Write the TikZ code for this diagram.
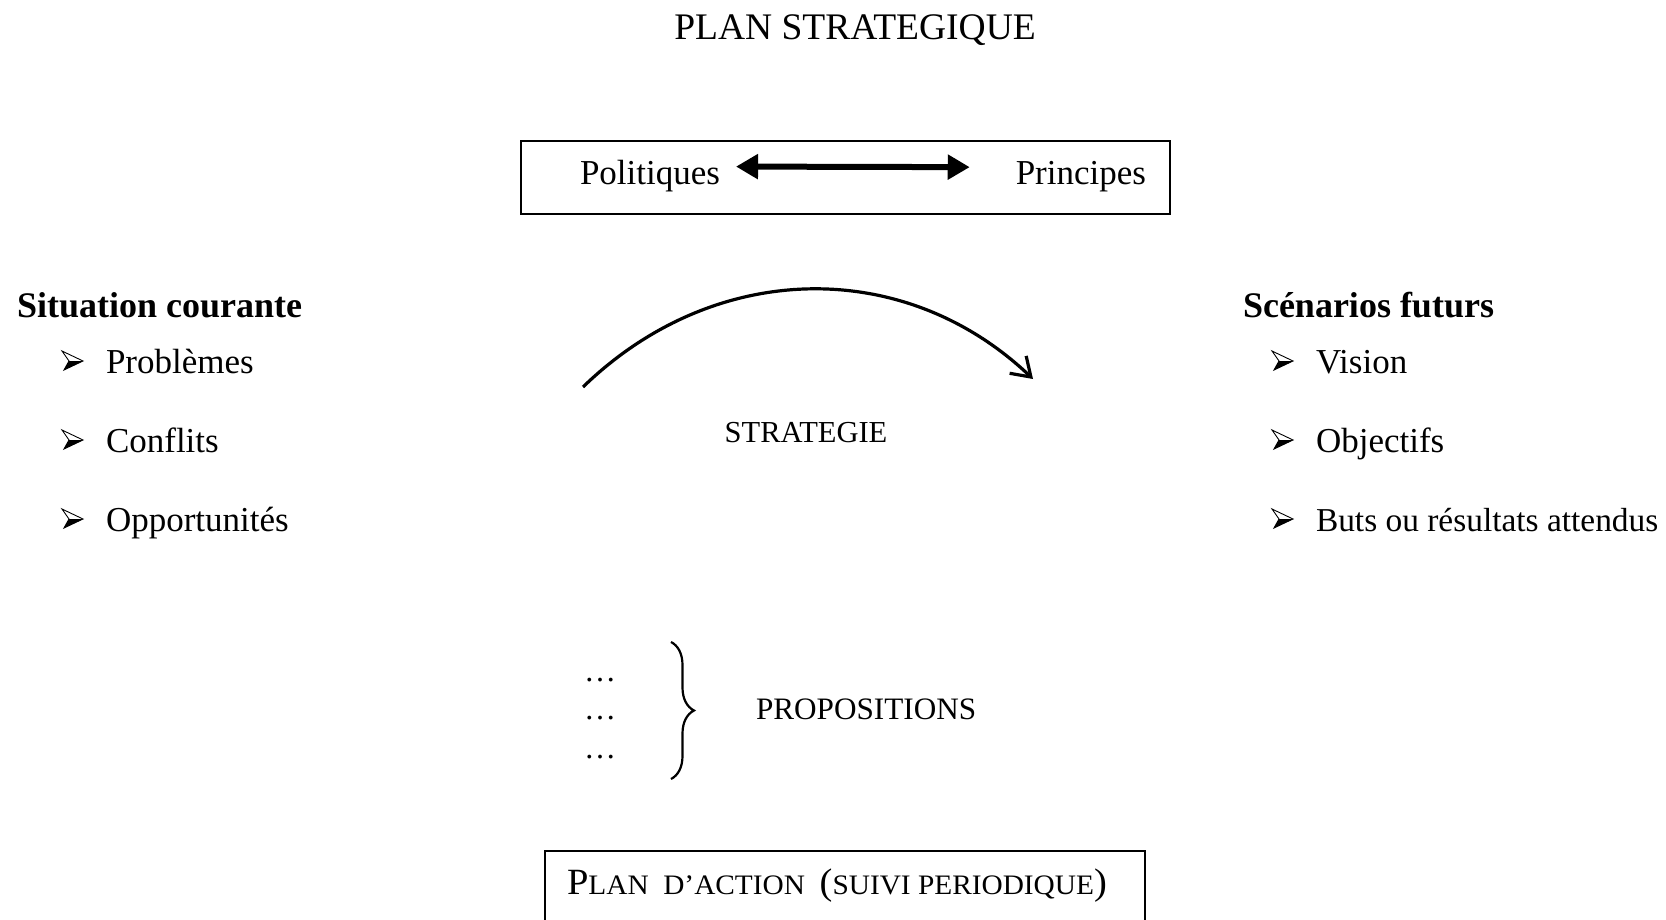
\documentclass[tikz,border=0pt]{standalone}
\usepackage{fontspec}
\usepackage{graphicx}
\setmainfont{Liberation Serif}
\usetikzlibrary{arrows.meta,decorations.pathreplacing}
\newcommand\fsz[1]{\fontsize{#1}{#1}\selectfont}
\tikzset{
  txt/.style={inner sep=0pt, outer sep=0pt},
  body/.style={txt, font=\fsz{35}},
  boldhead/.style={txt, font=\fsz{36}\bfseries},
  smallcap/.style={txt, font=\fsz{30.5}},
  frame/.style={draw, line width=1.6pt, inner sep=0pt, outer sep=0pt},
  biarrow/.style={line width=6pt, {Triangle[length=22pt,width=24pt]}-{Triangle[length=22pt,width=24pt]}},
  arcarrow/.style={line width=3.2pt, -{Straight Barb[length=18pt,width=24pt,line width=3.2pt]}},
  bracestyle/.style={line width=2.2pt, decorate, decoration={brace, amplitude=23pt}},
  arrowbullet/.pic={
    \fill (7,0) -- (21,0) -- (2,9) -- cycle;
    \draw[line width=0.9pt, line join=miter] (0,-10) -- (21,0) -- (2,9) -- (7,0) -- cycle;
  }
}
\begin{document}
\begin{tikzpicture}[x=1pt,y=-1pt]
\useasboundingbox (0,0) rectangle (1666,920);
% title
\node[txt, anchor=base, font=\fsz{37.5}] (title) at (855,40) {PLAN STRATEGIQUE};
% top box
\node[frame, minimum width=649pt, minimum height=73pt] (topbox) at (845.5,177.5) {};
\node[body, anchor=base west] (pol) at (580,185) {Politiques};
\node[body, anchor=base east] (prin) at (1146,185) {Principes};
\draw[biarrow] ([xshift=16pt,yshift=10pt]pol.east) -- ([xshift=-46pt,yshift=10pt]prin.west);
% left list
\node[boldhead, anchor=base west] (sit) at (17,317) {Situation courante};
\pic (lb1) at (62,361) {arrowbullet};
\node[body, anchor=base west] (l1) at (106,373) {Problèmes};
\pic (lb2) at (62,440) {arrowbullet};
\node[body, anchor=base west] (l2) at (106,452) {Conflits};
\pic (lb3) at (62,519) {arrowbullet};
\node[body, anchor=base west] (l3) at (106,531) {Opportunités};
% right list
\node[boldhead, anchor=base west] (scen) at (1243,317) {Scénarios futurs};
\pic (rb1) at (1272,361) {arrowbullet};
\node[body, anchor=base west] (r1) at (1316,373) {Vision};
\pic (rb2) at (1272,440) {arrowbullet};
\node[body, anchor=base west] (r2) at (1316,452) {Objectifs};
\pic (rb3) at (1272,519) {arrowbullet};
\node[txt, font=\fsz{33.4}, anchor=base west] (r3) at (1316,531) {Buts ou résultats attendus};
% strategy arc
\coordinate (arcs) at (583,387);
\coordinate (arce) at (1033,379);
\draw[arcarrow] (arcs) .. controls (715,259) and (905,257) .. (arce);
\node[smallcap, anchor=base] (strat) at (806,442) {STRATEGIE};
% propositions
\node[txt, anchor=base west, font=\fsz{32}] (d1) at (584,681) {…};
\node[txt, anchor=base west, font=\fsz{32}] (d2) at (584,719) {…};
\node[txt, anchor=base west, font=\fsz{32}] (d3) at (584,758) {…};
\draw[bracestyle] (671,642) -- (671,779);
\node[txt, font=\fsz{31.2}, anchor=base west] (prop) at (756,719) {PROPOSITIONS};
% bottom box
\draw[line width=1.6pt] (545,940) -- (545,851) -- (1145,851) -- (1145,940);
\node[txt, anchor=base west] (plan) at (567,894) {\scalebox{1.04}[1]{\fsz{37}P\fsz{28.2}LAN\ \ D’ACTION\ \ \fsz{37}(\fsz{28.2}SUIVI PERIODIQUE\fsz{37})}};
\end{tikzpicture}
\end{document}
